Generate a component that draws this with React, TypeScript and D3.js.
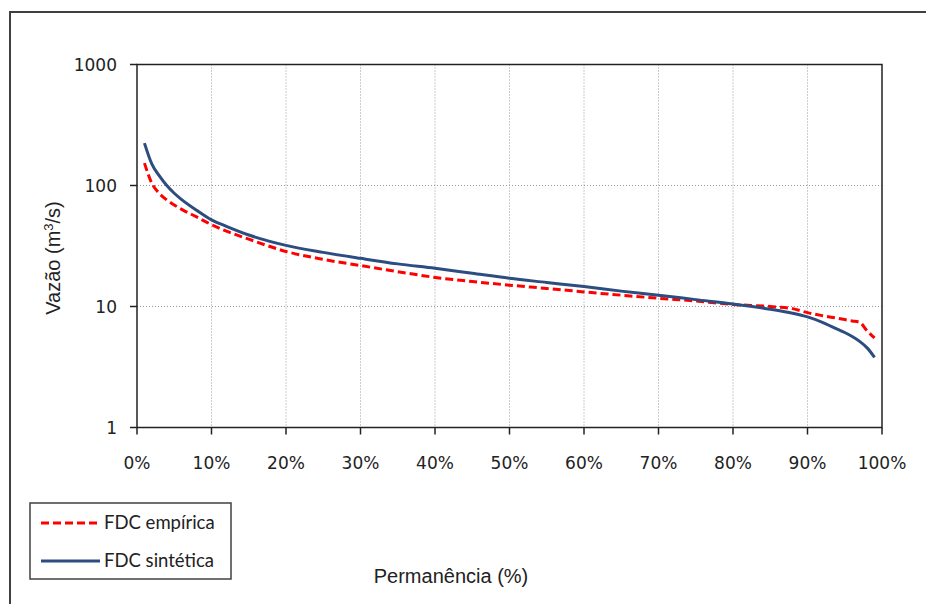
import React from 'react';
import * as d3 from 'd3';

// permanência (%) at which the curves were read
const permanencia = [1, 2, 3, 4, 5, 6, 8, 10, 12, 15, 20, 25, 30, 35, 40, 45, 50, 55, 60, 65, 70, 75, 80, 85, 88, 90, 92, 94, 95, 96, 97, 98, 99];
const fdcEmpirica = [153, 104, 86, 76, 69, 63.5, 55, 47.5, 42, 36, 28.5, 24.5, 21.8, 19.4, 17.4, 16.1, 15, 14.1, 13.2, 12.4, 11.7, 11.1, 10.4, 10.0, 9.6, 8.9, 8.4, 8.0, 7.8, 7.6, 7.4, 6.3, 5.5];
const fdcSintetica = [224, 150, 120, 100, 86.3, 76.5, 62.4, 52, 46, 39, 32, 28, 25, 22.5, 20.7, 18.8, 17.1, 15.8, 14.6, 13.4, 12.4, 11.4, 10.5, 9.5, 8.8, 8.2, 7.4, 6.5, 6.1, 5.65, 5.15, 4.55, 3.8];
const xTicks = [0, 10, 20, 30, 40, 50, 60, 70, 80, 90, 100];
const yTicks = [1, 10, 100, 1000];
const legendLabels = ['FDC empírica', 'FDC sintética'];

const RED = '#ff0000';
const BLUE = '#2c4d7f';

export default function App() {
  const left = 137, right = 882, top = 64.5, bottom = 427.5;
  const x = d3.scaleLinear().domain([0, 100]).range([left, right]);
  const y = d3.scaleLog().domain([1, 1000]).range([bottom, top]);

  const line = d3.line<number>()
    .x((_, i) => x(permanencia[i]))
    .y(d => y(d))
    .curve(d3.curveMonotoneX);

  const tickFont = '"DejaVu Sans", Verdana, sans-serif';
  const titleFont = '"Liberation Sans", Arial, sans-serif';
  const legendFont = 'Lato, "Open Sans", sans-serif';

  return (
    <svg width={926} height={604} style={{ position: 'absolute', left: 0, top: 0, background: '#fff' }}>
      <rect x={10} y={12} width={940} height={620} fill="#fff" stroke="#404040" strokeWidth={2} />

      {/* grid */}
      {xTicks.filter(t => t > 0 && t < 100).map(t => (
        <line key={'gx' + t} x1={x(t)} x2={x(t)} y1={top} y2={bottom} stroke="#999" strokeWidth={1} strokeDasharray="1,2" />
      ))}
      {yTicks.filter(t => t > 1 && t < 1000).map(t => (
        <line key={'gy' + t} x1={left} x2={right} y1={y(t)} y2={y(t)} stroke="#999" strokeWidth={1} strokeDasharray="1,2" />
      ))}

      {/* plot frame */}
      <rect x={left} y={top} width={right - left} height={bottom - top} fill="none" stroke="#222" strokeWidth={1.5} />

      {/* ticks */}
      {xTicks.map(t => (
        <g key={'tx' + t}>
          <line x1={x(t)} x2={x(t)} y1={bottom} y2={bottom + 7} stroke="#222" strokeWidth={1.5} />
          <text x={x(t)} y={469} textAnchor="middle" fontFamily={tickFont} fontSize={17} fill="#222">{t}%</text>
        </g>
      ))}
      {yTicks.map(t => (
        <g key={'ty' + t}>
          <line x1={left - 7} x2={left} y1={y(t)} y2={y(t)} stroke="#222" strokeWidth={1.5} />
          <text x={117} y={y(t)} dy="0.36em" textAnchor="end" fontFamily={tickFont} fontSize={17} fill="#222">{t}</text>
        </g>
      ))}

      {/* series */}
      <path d={line(fdcEmpirica) || ''} fill="none" stroke={RED} strokeWidth={3} strokeDasharray="8,4" />
      <path d={line(fdcSintetica) || ''} fill="none" stroke={BLUE} strokeWidth={3} />

      {/* axis titles */}
      <text x={451} y={583} textAnchor="middle" fontFamily={titleFont} fontSize={20} fill="#222">Permanência (%)</text>
      <text transform="translate(60,258) rotate(-90)" textAnchor="middle" fontFamily={titleFont} fontSize={20} fill="#222">
        Vazão (m<tspan baselineShift="super" fontSize={13}>3</tspan>/s)
      </text>

      {/* legend */}
      <rect x={30} y={503} width={201} height={76} fill="#fff" stroke="#404040" strokeWidth={1.5} />
      <line x1={41} x2={100} y1={523} y2={523} stroke={RED} strokeWidth={3} strokeDasharray="8,4" />
      <line x1={41} x2={100} y1={561} y2={561} stroke={BLUE} strokeWidth={3} />
      <text x={104} y={523} dy="0.35em" fontFamily={legendFont} fontSize={18.5} fill="#222">{legendLabels[0]}</text>
      <text x={104} y={561} dy="0.35em" fontFamily={legendFont} fontSize={18.5} fill="#222">{legendLabels[1]}</text>
    </svg>
  );
}
